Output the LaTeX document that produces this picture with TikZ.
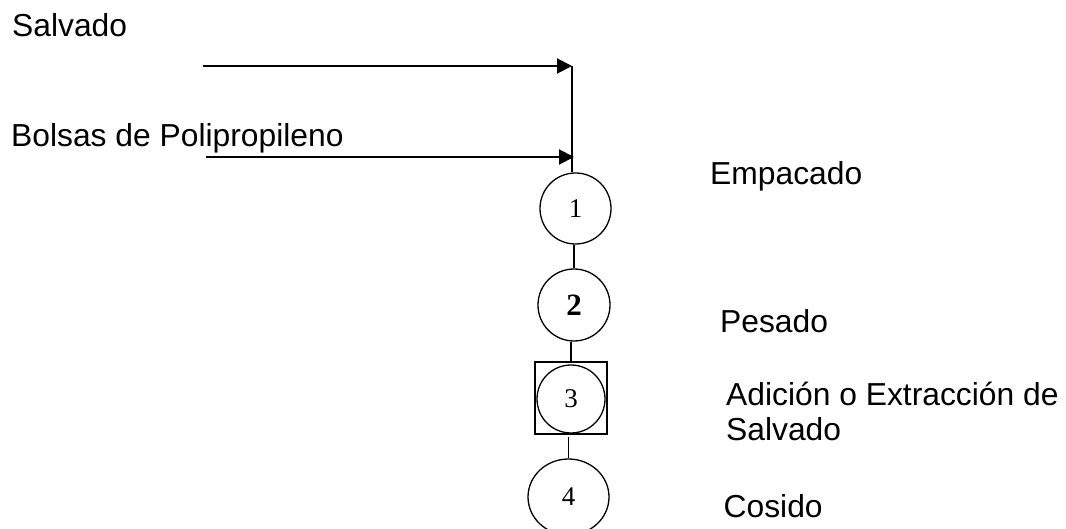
\documentclass[tikz,border=0pt]{standalone}
\usepackage{fontspec}
\setmainfont{Liberation Sans}
\newfontfamily\numfont{Liberation Serif}
\usetikzlibrary{arrows.meta,shapes.geometric}
\tikzset{
  lbl/.style={anchor=base west, inner sep=0pt, align=left, font=\fontsize{31.8}{35}\selectfont},
  opcircle/.style={draw, circle, line width=1.3pt, minimum size=#1, inner sep=0pt, font=\numfont\fontsize{27}{27}\selectfont},
  flow/.style={line width=1.3pt},
  feed/.style={line width=2pt, -{Triangle[length=15pt, width=15pt]}}
}
\begin{document}
\begin{tikzpicture}[x=1pt, y=-1pt]
  \useasboundingbox (0,0) rectangle (1066,529);
  % entradas
  \node[lbl] (salvado) at (12,37) {Salvado};
  \node[lbl] (bolsas) at (11,147) {Bolsas de Polipropileno};
  \coordinate (s0) at (203,66);
  \coordinate (s1) at (572,66);
  \coordinate (b0) at (206,157);
  \coordinate (b1) at (574,157);
  % operaciones
  \node[opcircle=71pt] (op1) at (575.5,208.5) {1};
  \node[opcircle=72pt, font=\numfont\bfseries\fontsize{31}{31}\selectfont] (op2) at (574,305) {2};
  \node[draw, line width=1.3pt, minimum size=72pt, inner sep=0pt] (insp3) at (571,398) {};
  \node[opcircle=68pt] (op3) at (571,399) {3};
  \node[draw, ellipse, line width=1.3pt, minimum width=81pt, minimum height=76pt, inner sep=0pt,
        font=\numfont\fontsize{27}{27}\selectfont] (op4) at (568.5,497) {4};
  % flechas y uniones
  \draw[feed] (s0) -- (s1);
  \draw[feed] (b0) -- (b1);
  \draw[flow] (s1) -- (s1 |- op1.north);
  \draw[flow] (op2.north |- op1.south) -- (op2.north);
  \draw[flow] (insp3.north |- op2.south) -- (insp3.north);
  \draw[flow] ([yshift=-2pt]op4.north |- insp3.south) -- (op4.north);
  % descripciones
  \node[lbl] (empacado) at (710,185) {Empacado};
  \node[lbl] (pesado) at (720,333) {Pesado};
  \node[lbl] (adicion) at (726,440) {Adición o Extracción de\\Salvado};
  \node[lbl] (cosido) at (723.5,517) {Cosido};
\end{tikzpicture}
\end{document}
